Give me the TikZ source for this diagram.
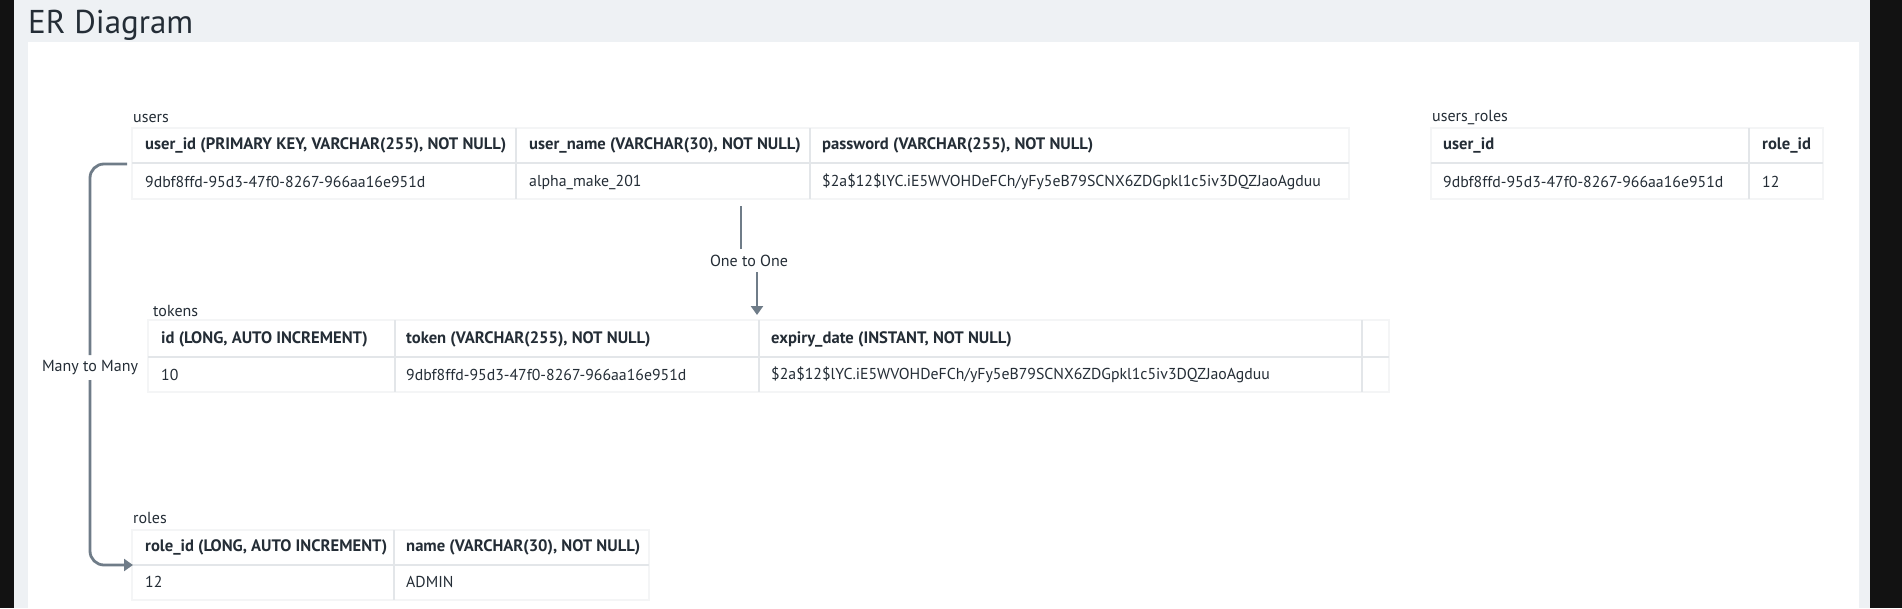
\documentclass[tikz,border=0pt]{standalone}
\usepackage{fontspec}
\setmainfont{PT Sans}
\usetikzlibrary{arrows.meta}
\definecolor{bggray}{HTML}{EEF1F4}
\definecolor{ink}{HTML}{242D36}
\definecolor{gridc}{HTML}{E3E6E9}
\definecolor{shadowc}{HTML}{F4F5F6}
\definecolor{conn}{HTML}{6F7C88}
\definecolor{sideblack}{HTML}{121212}
\begin{document}
\begin{tikzpicture}[x=1pt,y=-1pt,
  hdr/.style={anchor=west, inner sep=0pt, font=\fontsize{16.6}{18}\selectfont\bfseries, text=ink},
  cell/.style={anchor=west, inner sep=0pt, font=\fontsize{15.8}{18}\selectfont, text=ink},
  tlabel/.style={anchor=west, inner sep=0pt, font=\fontsize{16}{18}\selectfont, text=ink},
  gridline/.style={draw=gridc, line width=1.6pt},
  tframe/.style={draw=shadowc, line width=1.2pt},
  rel/.style={draw=conn, line width=2.8pt, rounded corners=14pt},
  relarrow/.style={-{Triangle[width=12pt,length=9pt]}},
  rellabel/.style={inner sep=0pt, font=\fontsize{16}{18}\selectfont, text=ink}
]
\useasboundingbox (0,0) rectangle (1902,608);
% background
\fill[sideblack] (0,0) rectangle (1902,608);
\fill[bggray] (14,0) rectangle (1870,608);
\fill[white] (28,42) rectangle (1859,608);
\node[anchor=base west, inner sep=0pt, font=\fontsize{33}{36}\selectfont, text=ink] (title) at (28,33) {ER Diagram};

% ---------- users ----------
\draw[tframe] (132,128) rectangle (1349,199);
\draw[gridline] (132,163) -- (1349,163);
\draw[gridline] (516,128) -- (516,199);
\draw[gridline] (810,128) -- (810,199);
\node[tlabel] (users) at (133,118) {users};
\node[hdr] (uh1) at (145,145) {user\_id (PRIMARY KEY, VARCHAR(255), NOT NULL)};
\node[hdr] (uh2) at (529,145) {user\_name (VARCHAR(30), NOT NULL)};
\node[hdr] (uh3) at (822,145) {password (VARCHAR(255), NOT NULL)};
\node[cell] (ud1) at (145,182) {9dbf8ffd-95d3-47f0-8267-966aa16e951d};
\node[cell] (ud2) at (529,182) {alpha\_make\_201};
\node[cell] (ud3) at (822,182) {\$2a\$12\$lYC.iE5WVOHDeFCh/yFy5eB79SCNX6ZDGpkl1c5iv3DQZJaoAgduu};

% ---------- users_roles ----------
\draw[tframe] (1431,128) rectangle (1823,199);
\draw[gridline] (1431,163) -- (1823,163);
\draw[gridline] (1749,128) -- (1749,199);
\node[tlabel] (usersroles) at (1432,118) {users\_roles};
\node[hdr] (rh1) at (1443,145) {user\_id};
\node[hdr] (rh2) at (1762,145) {role\_id};
\node[cell] (rd1) at (1443,182) {9dbf8ffd-95d3-47f0-8267-966aa16e951d};
\node[cell] (rd2) at (1762,182) {12};

% ---------- tokens ----------
\draw[tframe] (148,320) rectangle (1389,392);
\draw[gridline] (148,357) -- (1389,357);
\draw[gridline] (395,320) -- (395,392);
\draw[gridline] (759,320) -- (759,392);
\draw[gridline] (1362,320) -- (1362,392);
\node[tlabel] (tokens) at (153,311) {tokens};
\node[hdr] (th1) at (161,339) {id (LONG, AUTO INCREMENT)};
\node[hdr] (th2) at (406,339) {token (VARCHAR(255), NOT NULL)};
\node[hdr] (th3) at (771,339) {expiry\_date (INSTANT, NOT NULL)};
\node[cell] (td1) at (161,375) {10};
\node[cell] (td2) at (406,375) {9dbf8ffd-95d3-47f0-8267-966aa16e951d};
\node[cell] (td3) at (771,375) {\$2a\$12\$lYC.iE5WVOHDeFCh/yFy5eB79SCNX6ZDGpkl1c5iv3DQZJaoAgduu};

% ---------- roles ----------
\draw[tframe] (132,530) rectangle (649,600);
\draw[gridline] (132,565) -- (649,565);
\draw[gridline] (394,530) -- (394,600);
\node[tlabel] (roles) at (133,518) {roles};
\node[hdr] (oh1) at (145,547) {role\_id (LONG, AUTO INCREMENT)};
\node[hdr] (oh2) at (406,547) {name (VARCHAR(30), NOT NULL)};
\node[cell] (od1) at (145,582) {12};
\node[cell] (od2) at (406,582) {ADMIN};

% ---------- One to One ----------
\coordinate (oo-a) at (741,206);
\coordinate (oo-b) at (741,249);
\node[rellabel] (oolabel) at (749,261) {One to One};
\coordinate (oo-c) at (757,272);
\coordinate (oo-d) at (757,315);
\draw[rel] (oo-a) -- (oo-b);
\draw[rel, relarrow] (oo-c) -- (oo-d);

% ---------- Many to Many ----------
\coordinate (mm-a) at (127,164);
\coordinate (mm-b) at (90,355);
\node[rellabel] (mmlabel) at (90,368) {Many to Many};
\coordinate (mm-c) at (90,380);
\coordinate (mm-d) at (133,565);
\draw[rel] (mm-a) -| (mm-b);
\draw[rel, relarrow] (mm-c) |- (mm-d);
\end{tikzpicture}
\end{document}
